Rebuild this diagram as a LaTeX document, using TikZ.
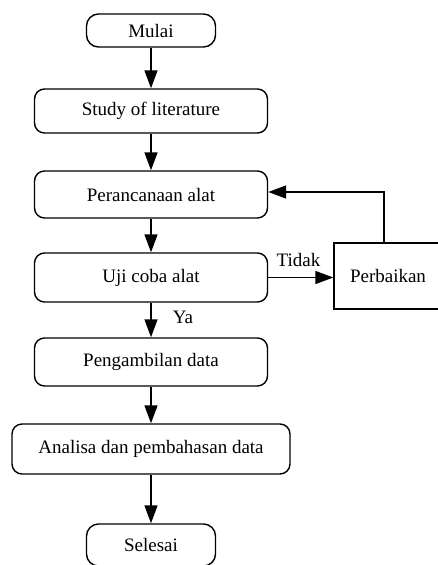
\documentclass[tikz,border=0pt]{standalone}
\usepackage{fontspec}
\setmainfont{Liberation Serif}
\usetikzlibrary{arrows.meta}
\begin{document}
\begin{tikzpicture}[x=1pt,y=-1pt,
  txt/.style={font=\fontsize{19}{22}\selectfont},
  box/.style={draw, line width=1.4pt, rounded corners=10pt, minimum width=233pt, inner sep=0pt, txt},
  term/.style={box, rounded corners=12pt, minimum width=129pt},
  plainbox/.style={draw, line width=1.4pt, inner sep=0pt, txt},
  flow/.style={line width=1.4pt, -{Triangle[length=18pt,width=13pt]}},
  lbl/.style={txt, inner sep=0pt}]
\useasboundingbox (0,0) rectangle (438,565);
\node[term, minimum height=33pt] (mulai) at (151,30.5) {Mulai};
\node[box, minimum height=44pt] (study) at (151,111) {Study of literature};
\node[box, minimum height=47pt] (peran) at (151,194.5) {Perancanaan alat};
\node[box, minimum height=49pt] (uji) at (151,277.5) {Uji coba alat};
\node[box, minimum height=48pt] (ambil) at (151,362) {Pengambilan data};
\node[box, minimum height=50pt, minimum width=278pt] (anal) at (151,449) {Analisa dan pembahasan data};
\node[term, minimum height=42pt] (selesai) at (151,545) {Selesai};
\node[plainbox, minimum width=108pt, minimum height=66pt] (perb) at (388,276) {Perbaikan};
\coordinate (c) at (384,192);
\draw[flow] (mulai) -- (study);
\draw[flow] (study) -- (peran);
\draw[flow] (peran) -- (uji);
\draw[flow] (uji) -- (ambil);
\draw[flow] (ambil) -- (anal);
\draw[flow] (anal) -- (selesai);
\draw[flow] (uji.east) -- (perb.west |- uji.east);
\draw[flow] (perb.north -| c) -- (c) -- (peran.east |- c);
\node[lbl] (tidak) at (298.5,260) {Tidak};
\node[lbl] (ya) at (183,317) {Ya};
\end{tikzpicture}
\end{document}
